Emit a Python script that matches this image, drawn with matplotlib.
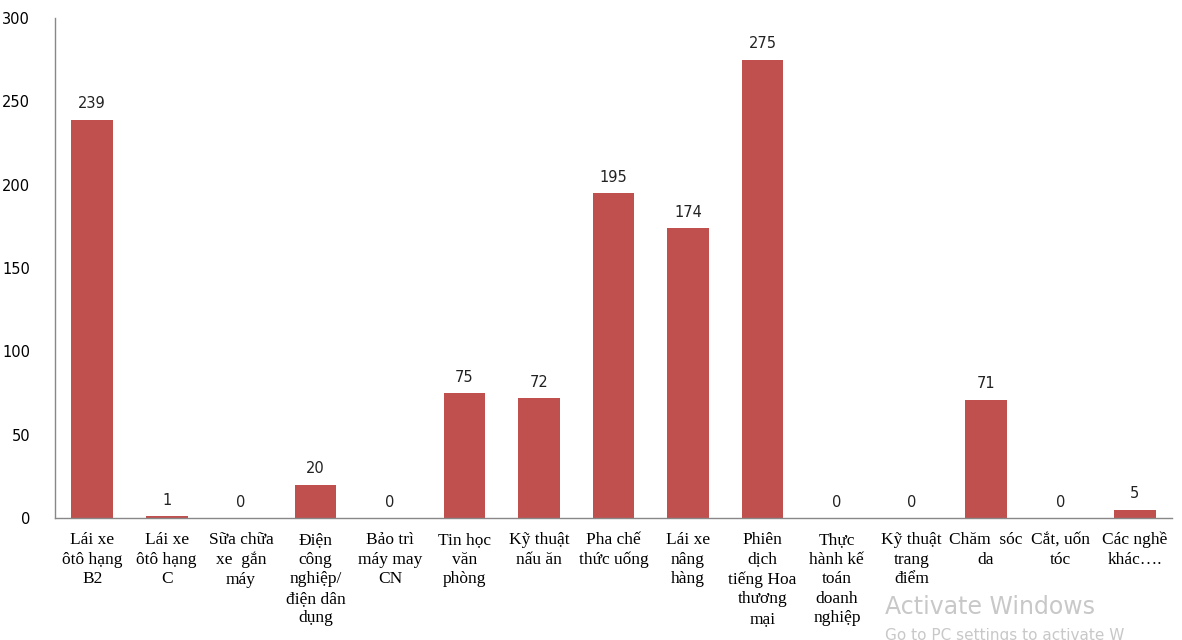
import matplotlib.pyplot as plt
import numpy as np

categories = [
    "Lái xe\nôtô hạng\nB2",
    "Lái xe\nôtô hạng\nC",
    "Sữa chữa\nxe  gắn\nmáy",
    "Điện\ncông\nnghiệp/\nđiện dân\ndụng",
    "Bảo trì\nmáy may\nCN",
    "Tin học\nvăn\nphòng",
    "Kỹ thuật\nnấu ăn",
    "Pha chế\nthức uống",
    "Lái xe\nnâng\nhàng",
    "Phiên\ndịch\ntiếng Hoa\nthương\nmại",
    "Thực\nhành kế\ntoán\ndoanh\nnghiệp",
    "Kỹ thuật\ntrang\nđiểm",
    "Chăm  sóc\nda",
    "Cắt, uốn\ntóc",
    "Các nghề\nkhác….",
]
values = [239, 1, 0, 20, 0, 75, 72, 195, 174, 275, 0, 0, 71, 0, 5]
yticks = [0, 50, 100, 150, 200, 250, 300]

fig = plt.figure(figsize=(11.82, 6.4), dpi=100)
ax = fig.add_axes([0.0465, 0.1906, 0.945, 0.7813])

x = np.arange(len(values))
ax.bar(x, values, width=0.56, color="#C0504D")
for xi, v in zip(x, values):
    ax.text(xi, v + 5, str(v), ha="center", va="bottom", fontsize=10.5,
            family="DejaVu Sans", color="#222222")

ax.set_xlim(-0.5, len(values) - 0.5)
ax.set_ylim(0, 300)
ax.set_yticks(yticks)
ax.set_yticklabels([str(t) for t in yticks], fontsize=10.5, family="DejaVu Sans")
ax.set_xticks(x)
ax.set_xticklabels(categories, fontsize=12.5, family="Liberation Serif",
                   linespacing=1.3, va="top")
ax.tick_params(axis="y", length=0, pad=18)
ax.tick_params(axis="x", length=0, pad=10)

for s in ["top", "right"]:
    ax.spines[s].set_visible(False)
for s in ["left", "bottom"]:
    ax.spines[s].set_color("#888888")
    ax.spines[s].set_linewidth(1)

# watermark seen in the source screenshot
fig.text(0.749, 0.04, "Activate Windows", fontsize=17, color="#c8c8c8",
         family="DejaVu Sans")
fig.text(0.749, 0.0, "Go to PC settings to activate W", fontsize=11,
         color="#c8c8c8", family="DejaVu Sans")

fig.savefig("out.png", dpi=100)
